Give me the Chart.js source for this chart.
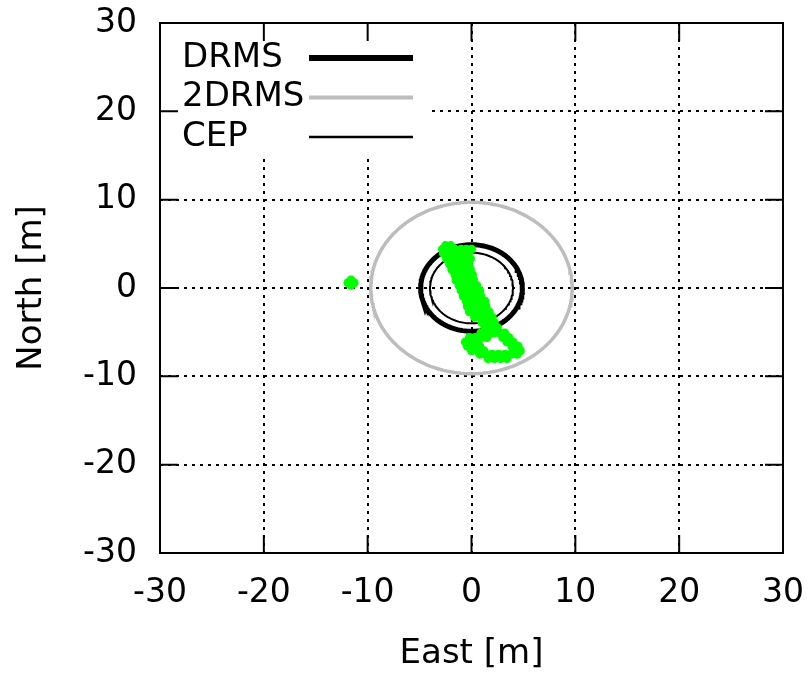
<!DOCTYPE html>
<html lang="en">
<head>
  <meta charset="UTF-8">
  <title>Horizontal position scatter</title>
  <script src="https://cdn.jsdelivr.net/npm/chart.js"></script>
  <style>
    body { margin: 0; background: #fff; }
    #wrap { width: 811px; height: 677px; }
  </style>
</head>
<body>
  <div id="wrap"><canvas id="myChart"></canvas></div>

  <script>
    // position fixes, metres (one line per row of the cloud)
    const fixEast = [
      -2.5, -2.0,
      -2.8, -2.2, -1.6, -1.0, -0.5, 0.0,
      -2.7, -2.1, -1.5, -0.9, -0.3,
      -2.4, -1.8, -1.2, -0.6, -0.1,
      -2.1, -1.5, -0.9, -0.3,
      -1.9, -1.3, -0.7, -0.1,
      -1.6, -1.0, -0.4, 0.1,
      -1.5, -0.9, -0.3, 0.2,
      -1.2, -0.6, 0.0, 0.5,
      -1.0, -0.4, 0.2, 0.8,
      -0.8, -0.2, 0.4, 0.9,
      -0.5, 0.1, 0.7, 1.3,
      -0.4, 0.2, 0.8, 1.4,
      -0.2, 0.4, 1.0, 1.7,
      0.3, 0.9, 1.5, 2.0,
      1.0, 1.6, 2.2,
      1.3, 1.9, 2.5,
      0.9, 1.5, 2.1, 2.7, 3.2,
      -0.2, 0.4, 1.0, 1.5, 3.0, 3.6,
      -0.6, 0.0, 0.6, 3.4, 4.0,
      -0.4, 0.2, 0.8, 3.9, 4.5,
      0.0, 0.6, 1.2, 4.0, 4.7,
      0.8, 1.4, 2.0, 2.6, 3.2, 3.8, 4.4,
      1.6, 2.2, 2.8, 3.4,
      -11.6, -11.3, -11.9, -11.6, -11.6
    ];
    const fixNorth = [
      4.8, 4.8,
      4.4, 4.4, 4.4, 4.4, 4.4, 4.4,
      3.9, 3.9, 3.9, 3.9, 3.9,
      3.3, 3.3, 3.3, 3.3, 3.3,
      2.7, 2.7, 2.7, 2.7,
      2.1, 2.1, 2.1, 2.1,
      1.5, 1.5, 1.5, 1.5,
      0.9, 0.9, 0.9, 0.9,
      0.3, 0.3, 0.3, 0.3,
      -0.3, -0.3, -0.3, -0.3,
      -0.9, -0.9, -0.9, -0.9,
      -1.5, -1.5, -1.5, -1.5,
      -2.1, -2.1, -2.1, -2.1,
      -2.7, -2.7, -2.7, -2.7,
      -3.3, -3.3, -3.3, -3.3,
      -3.9, -3.9, -3.9,
      -4.5, -4.5, -4.5,
      -5.1, -5.1, -5.1, -5.1, -5.1,
      -5.6, -5.6, -5.6, -5.6, -5.6, -5.6,
      -6.1, -6.1, -6.1, -6.1, -6.1,
      -6.6, -6.6, -6.6, -6.6, -6.6,
      -7.1, -7.1, -7.1, -7.1, -7.1,
      -7.5, -7.5, -7.5, -7.5, -7.5, -7.5, -7.5,
      -8.0, -8.0, -8.0, -8.0,
      0.6, 0.6, 0.6, 0.9, 0.3
    ];

    // accuracy radii, metres
    const circleNames = ['DRMS', '2DRMS', 'CEP'];
    const circleRadii = [4.9, 9.7, 4.0];
    const circleColors = ['#000000', '#bdbdbd', '#000000'];
    const circleWidths = [5, 3.5, 2];

    const axisTicks = [-30, -20, -10, 0, 10, 20, 30];

    function circlePoints(r) {
      const pts = [];
      for (let i = 0; i <= 180; i++) {
        const a = (i / 180) * 2 * Math.PI;
        pts.push({ x: r * Math.cos(a), y: r * Math.sin(a) });
      }
      return pts;
    }

    const fixes = fixEast.map((e, i) => ({ x: e, y: fixNorth[i] }));

    const datasets = [{
      label: 'fix',
      data: fixes,
      pointRadius: 4.5,
      pointBackgroundColor: '#00ff00',
      pointBorderWidth: 0,
      showLine: false,
      order: 0
    }];
    circleNames.forEach((name, i) => {
      datasets.push({
        label: name,
        data: circlePoints(circleRadii[i]),
        showLine: true,
        pointRadius: 0,
        borderColor: circleColors[i],
        borderWidth: circleWidths[i],
        tension: 0,
        order: 1 + i
      });
    });

    // white key box in the top left corner, then frame, inward ticks and key text
    const gnuplotLook = {
      id: 'gnuplotLook',
      beforeDatasetsDraw(chart) {
        const c = chart.ctx, a = chart.chartArea;
        c.save();
        c.fillStyle = '#fff';
        c.fillRect(a.left, a.top, 270, 134);
        c.restore();
      },
      afterDraw(chart) {
        const c = chart.ctx, a = chart.chartArea;
        const xs = chart.scales.x, ys = chart.scales.y;
        c.save();
        c.strokeStyle = '#000';
        c.lineWidth = 2;
        c.strokeRect(a.left, a.top, a.right - a.left, a.bottom - a.top);
        const len = 18;
        c.beginPath();
        axisTicks.forEach(v => {
          const px = xs.getPixelForValue(v);
          c.moveTo(px, a.bottom); c.lineTo(px, a.bottom - len);
          c.moveTo(px, a.top); c.lineTo(px, a.top + len);
          const py = ys.getPixelForValue(v);
          c.moveTo(a.left, py); c.lineTo(a.left + len, py);
          c.moveTo(a.right, py); c.lineTo(a.right - len, py);
        });
        c.stroke();

        // key
        c.font = '34px "DejaVu Sans"';
        c.textBaseline = 'middle';
        c.fillStyle = '#000';
        circleNames.forEach((name, i) => {
          const y = a.top + 35 + i * 39.5;
          c.fillText(name, a.left + 22, y);
          c.beginPath();
          c.strokeStyle = circleColors[i];
          c.lineWidth = i === 0 ? 6 : (i === 1 ? 4 : 2.5);
          c.moveTo(a.left + 149, y);
          c.lineTo(a.left + 253, y);
          c.stroke();
        });
        c.restore();
      }
    };

    const ctx = document.getElementById('myChart').getContext('2d');
    const myChart = new Chart(ctx, {
      type: 'scatter',
      data: { datasets: datasets },
      options: {
        responsive: true,
        maintainAspectRatio: false,
        animation: false,
        layout: { padding: { top: 23, right: 28, left: 0, bottom: 0 } },
        plugins: {
          legend: { display: false },
          tooltip: { enabled: false }
        },
        scales: {
          x: {
            type: 'linear',
            min: -30,
            max: 30,
            afterFit: (s) => { s.height = 124; s.paddingLeft = 0; s.paddingRight = 0; },
            afterBuildTicks: (s) => { s.ticks = axisTicks.map(v => ({ value: v })); },
            ticks: {
              color: '#000',
              padding: 21,
              font: { family: 'DejaVu Sans', size: 33 }
            },
            grid: {
              color: '#000',
              lineWidth: 2,
              drawTicks: false
            },
            border: { display: false, dash: [3, 5] },
            title: {
              display: true,
              text: 'East [m]',
              color: '#000',
              font: { family: 'DejaVu Sans', size: 34 },
              padding: { top: 0, bottom: 2 }
            }
          },
          y: {
            type: 'linear',
            min: -30,
            max: 30,
            afterFit: (s) => { s.width = 160; s.paddingTop = 0; s.paddingBottom = 0; },
            afterBuildTicks: (s) => { s.ticks = axisTicks.map(v => ({ value: v })); },
            ticks: {
              color: '#000',
              padding: 23,
              font: { family: 'DejaVu Sans', size: 33 }
            },
            grid: {
              color: '#000',
              lineWidth: 2,
              drawTicks: false
            },
            border: { display: false, dash: [3, 5] },
            title: {
              display: true,
              text: 'North [m]',
              color: '#000',
              font: { family: 'DejaVu Sans', size: 34 },
              padding: { top: 12, bottom: 0 }
            }
          }
        }
      },
      plugins: [gnuplotLook]
    });
  </script>
</body>
</html>
